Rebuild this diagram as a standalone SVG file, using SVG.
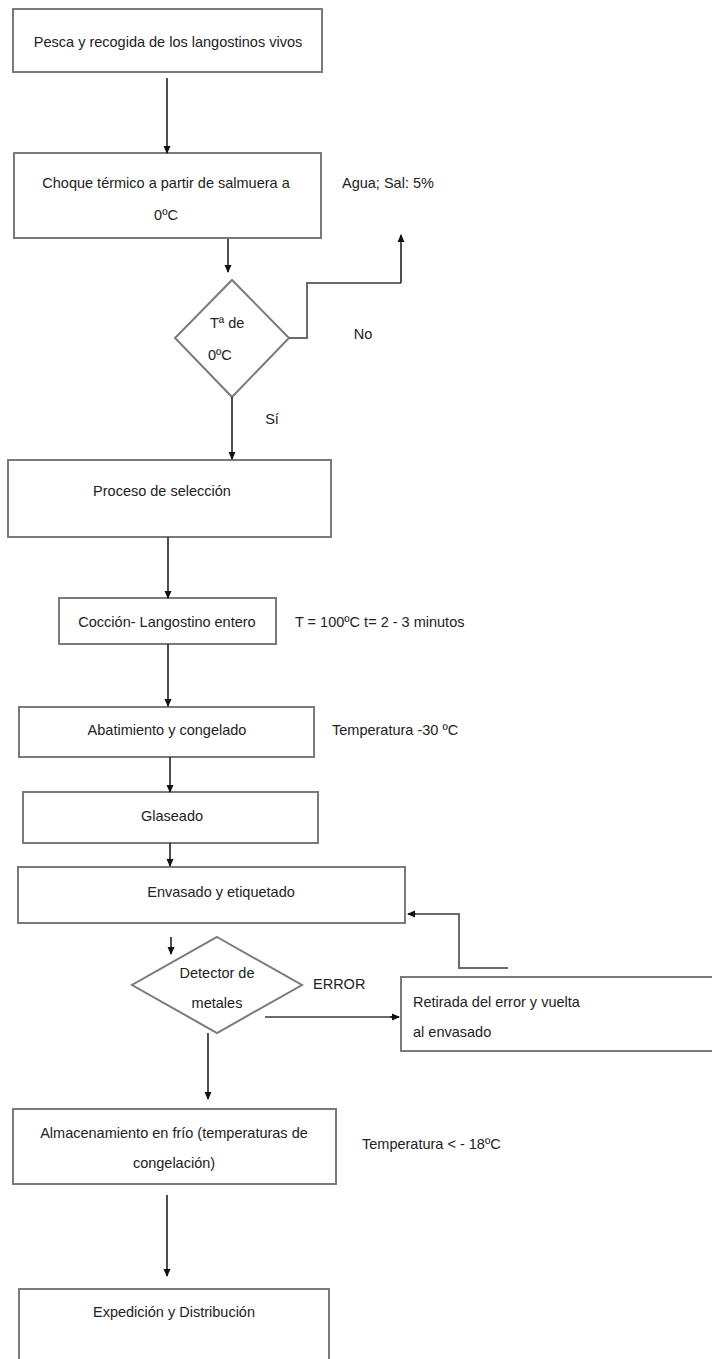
<svg xmlns="http://www.w3.org/2000/svg" width="712" height="1359" viewBox="0 0 712 1359">
<style>
.box{fill:#fff;stroke:#7a7a7a;stroke-width:2}
.t{font-family:"Liberation Sans",Arial,sans-serif;font-size:14.5px;fill:#222}
.m{text-anchor:middle}
.c{fill:none;stroke:#222;stroke-width:1.6}
.g{fill:none;stroke:#6a6a6a;stroke-width:2}
</style>
<defs>
<marker id="ah" markerWidth="8" markerHeight="8" refX="7" refY="4" orient="auto" markerUnits="userSpaceOnUse">
<path d="M0,0.5 L8,4 L0,7.5 Z" fill="#111"/>
</marker>
</defs>
<rect width="712" height="1359" fill="#fff"/>
<g id="n1"><rect class="box" x="13" y="9" width="309" height="63"/><text class="t m" x="168" y="47">Pesca y recogida de los langostinos vivos</text></g>
<g id="n2"><rect class="box" x="14" y="153" width="307" height="85"/><text class="t m" x="166" y="188">Choque térmico a partir de salmuera a</text><text class="t m" x="166" y="220">0ºC</text></g>
<g id="l1"><text class="t" x="342" y="188">Agua; Sal: 5%</text></g>
<g id="d1"><polygon class="box" points="232,280 289,338 232,397 175,338"/><text class="t" x="210" y="328">Tª de</text><text class="t" x="208" y="360">0ºC</text></g>
<g id="l2"><text class="t m" x="363" y="339">No</text><text class="t m" x="272" y="424">Sí</text></g>
<g id="n3"><rect class="box" x="8" y="460" width="323" height="77"/><text class="t m" x="162" y="496">Proceso de selección</text></g>
<g id="n4"><rect class="box" x="59" y="598" width="217" height="46"/><text class="t m" x="167" y="627">Cocción- Langostino entero</text></g>
<g id="l3"><text class="t" x="295" y="627">T = 100ºC  t= 2 - 3 minutos</text></g>
<g id="n5"><rect class="box" x="19" y="707" width="295" height="50"/><text class="t m" x="167" y="735">Abatimiento y congelado</text></g>
<g id="l4"><text class="t" x="332" y="735">Temperatura -30 ºC</text></g>
<g id="n6"><rect class="box" x="23" y="792" width="295" height="51"/><text class="t m" x="172" y="821">Glaseado</text></g>
<g id="n7"><rect class="box" x="18" y="867" width="387" height="56"/><text class="t m" x="221" y="897">Envasado y etiquetado</text></g>
<g id="d2"><polygon class="box" points="217,937 302,985 217,1033 132,985"/><text class="t m" x="217" y="978">Detector de</text><text class="t m" x="217" y="1008">metales</text></g>
<g id="l5"><text class="t" x="313" y="989">ERROR</text></g>
<g id="n8"><rect class="box" x="401" y="977" width="320" height="74"/><text class="t" x="413" y="1007">Retirada del error y vuelta</text><text class="t" x="413" y="1037">al envasado</text></g>
<g id="n9"><rect class="box" x="13" y="1109" width="323" height="75"/><text class="t m" x="174" y="1138">Almacenamiento en frío (temperaturas de</text><text class="t m" x="174" y="1168">congelación)</text></g>
<g id="l6"><text class="t" x="362" y="1149">Temperatura &lt; - 18ºC</text></g>
<g id="n10"><rect class="box" x="19" y="1289" width="310" height="90"/><text class="t m" x="174" y="1317">Expedición y Distribución</text></g>
<g id="connectors">
<line class="c" x1="167" y1="78" x2="167" y2="153" marker-end="url(#ah)"/>
<line class="c" x1="228" y1="239" x2="228" y2="272" marker-end="url(#ah)"/>
<polyline class="g" points="289,338 307,338 307,283 401,283"/>
<line class="c" x1="401" y1="283" x2="401" y2="235" marker-end="url(#ah)"/>
<line class="c" x1="232" y1="397" x2="232" y2="459" marker-end="url(#ah)"/>
<line class="c" x1="168" y1="537" x2="168" y2="598" marker-end="url(#ah)"/>
<line class="c" x1="168" y1="644" x2="168" y2="706" marker-end="url(#ah)"/>
<line class="c" x1="170" y1="757" x2="170" y2="792" marker-end="url(#ah)"/>
<line class="c" x1="170" y1="843" x2="170" y2="866" marker-end="url(#ah)"/>
<line class="c" x1="171" y1="937" x2="171" y2="954" marker-end="url(#ah)"/>
<line class="g" x1="265" y1="1017" x2="398" y2="1017"/>
<line class="c" x1="390" y1="1017" x2="399" y2="1017" marker-end="url(#ah)"/>
<polyline class="g" points="508,968 459,968 459,914 416,914"/>
<line class="c" x1="416" y1="914" x2="408" y2="914" marker-end="url(#ah)"/>
<line class="c" x1="208" y1="1033" x2="208" y2="1099" marker-end="url(#ah)"/>
<line class="c" x1="167" y1="1195" x2="167" y2="1276" marker-end="url(#ah)"/>
</g>
</svg>
